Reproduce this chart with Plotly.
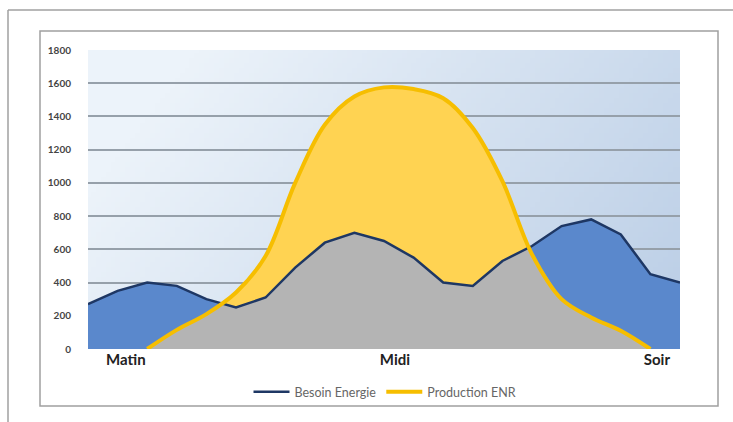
import base64
import struct
import zlib

import numpy as np
import plotly.graph_objects as go

# ---------------- data ----------------
periods = list(range(21))
besoin_energie = [270, 350, 400, 380, 300, 250, 310, 490, 640, 700, 650,
                  550, 400, 380, 530, 620, 740, 780, 690, 450, 400]
production_enr = [None, None, 0, 115, 210, 340, 560, 1000, 1350, 1520, 1575,
                  1565, 1510, 1330, 1010, 570, 300, 190, 110, 0, None]
x_labels = ["Matin", "Midi", "Soir"]
y_ticks = [0, 200, 400, 600, 800, 1000, 1200, 1400, 1600, 1800]

# ---------------- styles ----------------
BLUE_FILL = "rgb(90,136,204)"
BLUE_LINE = "rgb(30,55,100)"
YEL_FILL = "rgb(255,211,82)"
YEL_LINE = "rgb(246,190,0)"
GRAY_FILL = "rgb(180,180,180)"


def gradient_png(w, h):
    light = np.array([236, 243, 250], float)
    dark = np.array([184, 204, 229], float)
    rows = []
    for j in range(h):
        yn = j / (h - 1)
        row = bytearray([0])
        for i in range(w):
            xn = i / (w - 1)
            t = min(max(0.8 * xn + 0.3 * yn - 0.15, 0.0), 1.0)
            c = light + (dark - light) * t
            row += bytes(int(v) for v in c)
        rows.append(bytes(row))
    raw = b"".join(rows)

    def chunk(tag, data):
        return (struct.pack(">I", len(data)) + tag + data +
                struct.pack(">I", zlib.crc32(tag + data) & 0xffffffff))

    png = b"\x89PNG\r\n\x1a\n"
    png += chunk(b"IHDR", struct.pack(">IIBBBBB", w, h, 8, 2, 0, 0, 0))
    png += chunk(b"IDAT", zlib.compress(raw, 9))
    png += chunk(b"IEND", b"")
    return "data:image/png;base64," + base64.b64encode(png).decode()


# gray overlap = min of both series (with crossing points)
b_arr = np.array(besoin_energie, float)
p_arr = np.array([0 if v is None else v for v in production_enr], float)
gx, gy = [], []
for i in range(len(periods)):
    gx.append(periods[i])
    gy.append(min(b_arr[i], p_arr[i]))
    if i < len(periods) - 1:
        d0 = p_arr[i] - b_arr[i]
        d1 = p_arr[i + 1] - b_arr[i + 1]
        if d0 * d1 < 0:
            t = d0 / (d0 - d1)
            gx.append(periods[i] + t)
            gy.append(b_arr[i] + t * (b_arr[i + 1] - b_arr[i]))

fig = go.Figure()
fig.add_trace(go.Scatter(x=periods, y=besoin_energie, mode="lines", fill="tozeroy",
                         fillcolor=BLUE_FILL, line=dict(width=0, color=BLUE_FILL),
                         showlegend=False, hoverinfo="skip"))
fig.add_trace(go.Scatter(x=periods, y=production_enr, mode="lines", fill="tozeroy",
                         fillcolor=YEL_FILL, line=dict(width=0, shape="spline", color=YEL_FILL),
                         showlegend=False, hoverinfo="skip"))
fig.add_trace(go.Scatter(x=gx, y=gy, mode="lines", fill="tozeroy",
                         fillcolor=GRAY_FILL, line=dict(width=0, color=GRAY_FILL),
                         showlegend=False, hoverinfo="skip"))
fig.add_trace(go.Scatter(x=periods, y=besoin_energie, mode="lines", name="Besoin Energie",
                         line=dict(width=2.5, color=BLUE_LINE)))
fig.add_trace(go.Scatter(x=periods, y=production_enr, mode="lines", name="Production ENR",
                         line=dict(width=4, color=YEL_LINE, shape="spline")))

L, R, T, B = 88, 680, 50, 349
W, H = 733, 422
pw, ph = R - L, B - T


def px(xp):
    return (xp - L) / pw


def py(yp):
    return (B - yp) / ph


frame = "rgb(160,160,160)"
shapes = [
    dict(type="line", xref="paper", yref="paper", x0=px(8), x1=px(W + 5), y0=py(10), y1=py(10),
         line=dict(color=frame, width=1.5)),
    dict(type="line", xref="paper", yref="paper", x0=px(8), x1=px(8), y0=py(10), y1=py(H + 5),
         line=dict(color=frame, width=1.5)),
    dict(type="rect", xref="paper", yref="paper", x0=px(40), x1=px(718), y0=py(31), y1=py(406),
         line=dict(color=frame, width=1.5), fillcolor="rgba(0,0,0,0)"),
]

fig.update_layout(
    width=W, height=H,
    margin=dict(l=L, r=W - R, t=T, b=H - B),
    paper_bgcolor="white",
    plot_bgcolor="rgba(0,0,0,0)",
    font=dict(family="Lato, Liberation Sans, sans-serif", color="#333"),
    shapes=shapes,
    images=[dict(source=gradient_png(120, 60), xref="paper", yref="paper", x=0, y=1,
                 sizex=1, sizey=1, sizing="stretch", layer="below", xanchor="left",
                 yanchor="top")],
    showlegend=True,
    legend=dict(orientation="h", x=px(385), y=py(392), xanchor="center", yanchor="middle",
                font=dict(size=12.5, color="#666"), bgcolor="rgba(0,0,0,0)",
                itemwidth=36, traceorder="normal"),
    xaxis=dict(range=[0, 20], tickvals=[1.28, 10.37, 19.22], ticktext=x_labels,
               showgrid=False, zeroline=False, showline=False, ticks="",
               tickfont=dict(size=15, color="#222", family="Lato, sans-serif", weight="bold")),
    yaxis=dict(range=[0, 1800], tickvals=y_ticks, showgrid=True,
               gridcolor="rgb(150,160,170)", gridwidth=1.5, zeroline=False, showline=False,
               ticks="outside", ticklen=14, tickcolor="rgba(0,0,0,0)",
               tickfont=dict(size=10, color="#444", weight="bold")),
)

fig.write_html("out.html", config={"displayModeBar": False},
               post_script="document.body.style.margin='0';document.body.style.overflow='hidden';")
